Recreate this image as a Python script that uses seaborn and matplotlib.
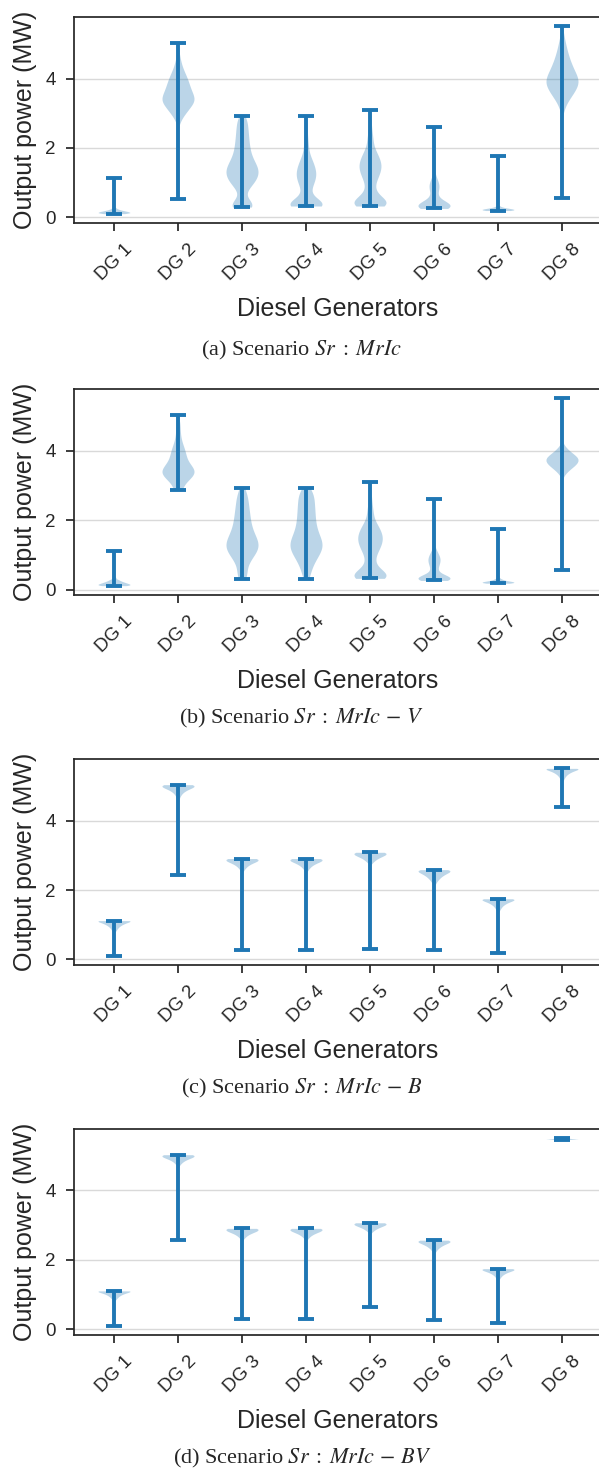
import numpy as np
import pandas as pd
import seaborn as sns
import matplotlib.pyplot as plt

# generadores y titulos de los cuatro escenarios
dg_labels = ['DG 1', 'DG 2', 'DG 3', 'DG 4', 'DG 5', 'DG 6', 'DG 7', 'DG 8']
captions = [r'(a) Scenario $Sr\;:\;MrIc$',
            r'(b) Scenario $Sr\;:\;MrIc\,-\,V$',
            r'(c) Scenario $Sr\;:\;MrIc\,-\,B$',
            r'(d) Scenario $Sr\;:\;MrIc\,-\,BV$']

# potencia de salida (MW) y cuantas veces aparece cada valor, por generador
mric_vals = [
    [0.10, 0.13, 0.16, 0.19, 0.22, 0.25, 0.28, 0.32, 0.4, 1.12],
    [0.51, 2.6, 2.7, 2.8, 2.9, 3.0, 3.1, 3.2, 3.3, 3.4, 3.5, 3.6, 3.7, 3.8, 3.9, 4.0, 4.1, 4.2, 4.3, 4.4, 4.5, 4.6, 4.7, 4.8, 4.9, 5.03],
    [0.29, 0.4, 0.5, 0.6, 0.7, 0.8, 0.9, 1.0, 1.1, 1.2, 1.3, 1.4, 1.5, 1.6, 1.7, 1.8, 1.9, 2.0, 2.1, 2.2, 2.3, 2.4, 2.5, 2.6, 2.7, 2.8, 2.91],
    [0.32, 0.4, 0.5, 0.6, 0.7, 0.8, 0.9, 1.0, 1.1, 1.2, 1.3, 1.4, 1.5, 1.6, 1.7, 1.8, 2.0, 2.2, 2.4, 2.6, 2.8, 2.91],
    [0.32, 0.4, 0.5, 0.6, 0.7, 0.8, 0.9, 1.0, 1.1, 1.2, 1.3, 1.4, 1.5, 1.6, 1.7, 1.8, 1.9, 2.0, 2.2, 2.4, 2.6, 2.8, 3.0, 3.1],
    [0.25, 0.3, 0.35, 0.4, 0.5, 0.6, 0.7, 0.8, 0.9, 1.0, 1.1, 1.2, 1.4, 1.6, 1.8, 2.0, 2.2, 2.4, 2.6],
    [0.19, 0.21, 0.23, 0.25, 0.28, 0.31, 0.35, 0.4, 0.6, 0.9, 1.2, 1.5, 1.76],
    [0.55, 2.9, 3.0, 3.1, 3.2, 3.3, 3.4, 3.5, 3.6, 3.7, 3.8, 3.9, 4.0, 4.1, 4.2, 4.3, 4.4, 4.5, 4.6, 4.7, 4.8, 4.9, 5.0, 5.1, 5.2, 5.3, 5.4, 5.51],
]
mric_counts = [
    [200, 300, 250, 160, 90, 50, 25, 12, 5, 2],
    [1, 8, 20, 40, 65, 100, 135, 170, 205, 220, 210, 190, 170, 155, 140, 125, 105, 85, 65, 50, 38, 28, 20, 14, 9, 5],
    [140, 90, 15, 10, 15, 30, 55, 70, 85, 95, 100, 95, 85, 72, 60, 52, 47, 44, 42, 40, 38, 36, 35, 33, 32, 31, 30],
    [200, 120, 50, 25, 20, 26, 36, 46, 54, 58, 58, 53, 46, 38, 31, 25, 30, 22, 16, 12, 10, 8],
    [150, 160, 100, 60, 35, 28, 28, 34, 45, 57, 67, 74, 76, 72, 62, 50, 40, 32, 44, 30, 20, 14, 10, 4],
    [70, 100, 90, 60, 30, 15, 20, 30, 38, 30, 18, 10, 10, 8, 6, 6, 4, 4, 3],
    [200, 230, 200, 140, 80, 40, 18, 8, 4, 3, 2, 2, 1],
    [1, 5, 10, 18, 28, 42, 60, 80, 100, 118, 132, 140, 136, 125, 110, 96, 84, 72, 62, 53, 45, 38, 31, 25, 19, 14, 9, 5],
]

mric_v_vals = [
    [0.12, 0.15, 0.18, 0.21, 0.24, 0.27, 0.30, 0.34, 0.38, 0.45, 0.6, 1.11],
    [2.86, 2.9, 3.0, 3.1, 3.2, 3.3, 3.4, 3.5, 3.6, 3.7, 3.8, 3.9, 4.0, 4.1, 4.2, 4.3, 4.4, 4.5, 4.6, 4.7, 4.8, 4.9, 5.03],
    [0.31, 0.4, 0.5, 0.6, 0.7, 0.8, 0.9, 1.0, 1.1, 1.2, 1.3, 1.4, 1.5, 1.6, 1.7, 1.8, 1.9, 2.0, 2.1, 2.2, 2.3, 2.4, 2.5, 2.6, 2.7, 2.8, 2.94],
    [0.31, 0.4, 0.5, 0.6, 0.7, 0.8, 0.9, 1.0, 1.1, 1.2, 1.3, 1.4, 1.5, 1.6, 1.7, 1.8, 1.9, 2.0, 2.1, 2.2, 2.3, 2.4, 2.5, 2.6, 2.7, 2.8, 2.94],
    [0.33, 0.4, 0.5, 0.6, 0.7, 0.8, 0.9, 1.0, 1.1, 1.2, 1.3, 1.4, 1.5, 1.6, 1.7, 1.8, 1.9, 2.0, 2.2, 2.4, 2.6, 2.8, 3.0, 3.1],
    [0.27, 0.3, 0.35, 0.4, 0.5, 0.6, 0.7, 0.8, 0.9, 1.0, 1.1, 1.2, 1.4, 1.6, 1.8, 2.0, 2.2, 2.4, 2.6],
    [0.19, 0.21, 0.23, 0.25, 0.28, 0.31, 0.35, 0.4, 0.45, 0.6, 1.0, 1.3, 1.76],
    [0.56, 3.1, 3.2, 3.25, 3.3, 3.35, 3.4, 3.45, 3.5, 3.55, 3.6, 3.65, 3.7, 3.75, 3.8, 3.85, 3.9, 3.95, 4.0, 4.05, 4.1, 4.15, 4.2, 4.3, 4.4, 4.6, 4.8, 5.0, 5.2, 5.51],
]
mric_v_counts = [
    [220, 260, 220, 170, 125, 90, 62, 40, 25, 12, 5, 2],
    [40, 50, 70, 110, 160, 210, 230, 210, 170, 135, 115, 105, 95, 80, 62, 48, 38, 32, 30, 28, 25, 20, 12],
    [30, 30, 28, 28, 32, 42, 56, 72, 88, 98, 100, 95, 85, 74, 65, 58, 53, 50, 47, 45, 42, 40, 37, 35, 32, 30, 25],
    [20, 22, 26, 32, 40, 50, 62, 75, 88, 97, 100, 95, 86, 76, 68, 62, 58, 55, 54, 53, 52, 50, 49, 48, 47, 46, 40],
    [160, 160, 100, 55, 36, 30, 30, 40, 52, 66, 78, 86, 88, 84, 74, 60, 47, 36, 48, 32, 22, 16, 12, 4],
    [120, 160, 170, 130, 60, 50, 70, 90, 95, 75, 45, 25, 12, 8, 6, 5, 4, 3, 2],
    [200, 230, 210, 160, 110, 70, 40, 20, 10, 4, 3, 2, 1],
    [1, 2, 4, 8, 14, 22, 32, 44, 56, 70, 82, 92, 98, 100, 96, 86, 72, 58, 45, 34, 24, 16, 10, 8, 4, 2, 2, 1, 1, 1],
]

mric_b_vals = [
    [0.11, 0.5, 0.82, 0.87, 0.92, 0.97, 1.02, 1.07, 1.12],
    [2.44, 3.2, 4.0, 4.59, 4.64, 4.69, 4.74, 4.79, 4.84, 4.89, 4.94, 4.99, 5.04],
    [0.28, 1.0, 2.0, 2.56, 2.61, 2.66, 2.71, 2.76, 2.81, 2.86, 2.91],
    [0.28, 1.0, 2.0, 2.56, 2.61, 2.66, 2.71, 2.76, 2.81, 2.86, 2.91],
    [0.31, 1.0, 2.0, 2.79, 2.84, 2.89, 2.94, 2.99, 3.04, 3.09],
    [0.26, 1.0, 1.8, 2.14, 2.19, 2.24, 2.29, 2.34, 2.39, 2.44, 2.49, 2.54, 2.59],
    [0.18, 0.6, 1.0, 1.40, 1.45, 1.5, 1.55, 1.6, 1.65, 1.7, 1.75],
    [4.41, 4.8, 5.1, 5.16, 5.21, 5.26, 5.31, 5.36, 5.41, 5.46, 5.51],
]
mric_b_counts = [
    [2, 1, 15, 22, 32, 47, 70, 102, 150],
    [2, 1, 1, 5, 7, 10, 15, 22, 32, 47, 70, 102, 150],
    [2, 1, 1, 10, 15, 22, 32, 47, 70, 102, 150],
    [2, 1, 1, 10, 15, 22, 32, 47, 70, 102, 150],
    [2, 1, 1, 15, 22, 32, 47, 70, 102, 150],
    [2, 1, 1, 6, 11, 18, 27, 37, 50, 66, 88, 115, 150],
    [2, 1, 1, 10, 15, 22, 32, 47, 70, 102, 150],
    [2, 1, 1, 10, 15, 22, 32, 47, 70, 102, 150],
]

mric_bv_vals = [
    [0.11, 0.5, 0.86, 0.91, 0.96, 1.01, 1.06, 1.11],
    [2.57, 3.5, 4.3, 4.73, 4.78, 4.83, 4.88, 4.93, 4.98, 5.03],
    [0.29, 1.0, 2.0, 2.61, 2.66, 2.71, 2.76, 2.81, 2.86, 2.91],
    [0.29, 1.0, 2.0, 2.61, 2.66, 2.71, 2.76, 2.81, 2.86, 2.91],
    [0.65, 1.5, 2.3, 2.82, 2.87, 2.92, 2.97, 3.02, 3.07],
    [0.26, 1.0, 1.8, 2.22, 2.27, 2.32, 2.37, 2.42, 2.47, 2.52, 2.57],
    [0.18, 0.6, 1.1, 1.45, 1.5, 1.55, 1.6, 1.65, 1.7, 1.75],
    [5.46, 5.47, 5.48, 5.49, 5.50],
]
mric_bv_counts = [
    [2, 1, 15, 25, 40, 62, 100, 150],
    [2, 1, 1, 10, 16, 25, 40, 62, 100, 150],
    [2, 1, 1, 10, 16, 25, 40, 62, 100, 150],
    [2, 1, 1, 10, 16, 25, 40, 62, 100, 150],
    [2, 1, 1, 16, 25, 40, 62, 100, 150],
    [2, 1, 1, 8, 14, 22, 34, 50, 72, 105, 150],
    [2, 1, 1, 10, 16, 25, 40, 62, 100, 150],
    [10, 20, 40, 30, 20],
]

escenarios = [(mric_vals, mric_counts), (mric_v_vals, mric_v_counts),
              (mric_b_vals, mric_b_counts), (mric_bv_vals, mric_bv_counts)]

azul = '#1f77b4'

sns.set_theme(style='ticks')
plt.rcParams['font.family'] = ['Liberation Sans', 'DejaVu Sans']
plt.rcParams['mathtext.fontset'] = 'stix'

W, H = 599, 1476
fig = plt.figure(figsize=(W / 100, H / 100), dpi=100)
tops = [17, 389, 759, 1129]
cap_y = [350, 718, 1088, 1458]
alto = 206

for k, (vals, counts) in enumerate(escenarios):
    ax = fig.add_axes([74 / W, 1 - (tops[k] + alto) / H, 528 / W, alto / H])

    df = pd.concat([pd.DataFrame({'DG': dg,
                                  'Potencia': np.repeat(v, c)})
                    for dg, v, c in zip(dg_labels, vals, counts)])

    sns.violinplot(data=df, x='DG', y='Potencia', order=dg_labels, ax=ax,
                   inner=None, cut=0, density_norm='width', width=0.5,
                   color=azul, saturation=1, linewidth=0, alpha=0.3)

    # lineas de extremos (min / max) como en violinplot de matplotlib
    for i, dg in enumerate(dg_labels):
        serie = df.loc[df['DG'] == dg, 'Potencia']
        lo, hi = serie.min(), serie.max()
        ax.vlines(i, lo, hi, color=azul, lw=2.8, zorder=3)
        ax.hlines([lo, hi], i - 0.125, i + 0.125, color=azul, lw=2.8, zorder=3)

    lo_all, hi_all = df['Potencia'].min(), df['Potencia'].max()
    pad = 0.05 * (hi_all - lo_all)
    ax.set_ylim(lo_all - pad, hi_all + pad)
    ax.set_xlim(-0.625, 7.625)
    ax.set_yticks([0, 2, 4])
    ax.set_xticks(range(len(dg_labels)))
    ax.set_xticklabels(dg_labels, rotation=45)
    ax.tick_params(axis='both', labelsize=13.5, pad=7)
    ax.grid(axis='y', color='#d9d9d9', lw=1)
    ax.set_axisbelow(True)
    ax.set_xlabel('Diesel Generators', fontsize=18, labelpad=9)
    ax.set_ylabel('Output power (MW)', fontsize=18, labelpad=6)

    fig.text(302 / W, 1 - cap_y[k] / H, captions[k], ha='center', va='center',
             fontsize=16, family='Liberation Serif')

fig.savefig('out.png', dpi=100)
